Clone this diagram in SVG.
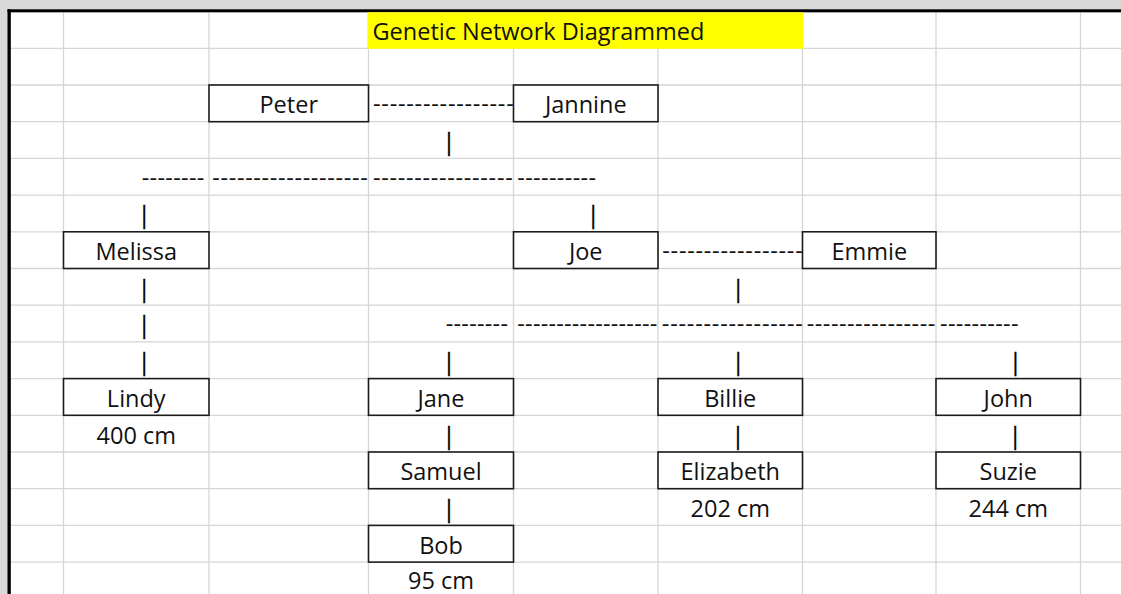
<svg xmlns="http://www.w3.org/2000/svg" width="1121" height="594" viewBox="0 0 1121 594">
<style>
.grid line{stroke:#d6d6d6;stroke-width:1.3}
.box{fill:#fff;stroke:#1c1c1c;stroke-width:1.6}
text{font-family:"Open Sans","Liberation Sans",sans-serif;font-size:23.5px;fill:#111}
.c{text-anchor:middle}
.bar{fill:#000;stroke:#000;stroke-width:0.3}
</style>
<rect x="0" y="0" width="1121" height="594" fill="#d9d9d9"/>
<rect x="10.8" y="12.3" width="1110.2" height="581.7" fill="#fff"/>
<g class="grid" id="grid">
<line x1="63.5" y1="12.3" x2="63.5" y2="594"/>
<line x1="209" y1="12.3" x2="209" y2="594"/>
<line x1="368.5" y1="12.3" x2="368.5" y2="594"/>
<line x1="513.5" y1="12.3" x2="513.5" y2="594"/>
<line x1="658" y1="12.3" x2="658" y2="594"/>
<line x1="802.5" y1="12.3" x2="802.5" y2="594"/>
<line x1="936" y1="12.3" x2="936" y2="594"/>
<line x1="1080.5" y1="12.3" x2="1080.5" y2="594"/>
<line x1="10.8" y1="48.3" x2="1121" y2="48.3"/>
<line x1="10.8" y1="85" x2="1121" y2="85"/>
<line x1="10.8" y1="121.7" x2="1121" y2="121.7"/>
<line x1="10.8" y1="158.4" x2="1121" y2="158.4"/>
<line x1="10.8" y1="195.1" x2="1121" y2="195.1"/>
<line x1="10.8" y1="231.8" x2="1121" y2="231.8"/>
<line x1="10.8" y1="268.5" x2="1121" y2="268.5"/>
<line x1="10.8" y1="305.2" x2="1121" y2="305.2"/>
<line x1="10.8" y1="341.9" x2="1121" y2="341.9"/>
<line x1="10.8" y1="378.6" x2="1121" y2="378.6"/>
<line x1="10.8" y1="415.3" x2="1121" y2="415.3"/>
<line x1="10.8" y1="452" x2="1121" y2="452"/>
<line x1="10.8" y1="488.7" x2="1121" y2="488.7"/>
<line x1="10.8" y1="525.4" x2="1121" y2="525.4"/>
<line x1="10.8" y1="562.1" x2="1121" y2="562.1"/>
</g>
<rect x="7.5" y="9.3" width="1113.5" height="3" fill="#000"/>
<rect x="7.5" y="9.3" width="3.3" height="584.7" fill="#000"/>
<g id="title">
<rect x="367.5" y="12.3" width="435.5" height="36.5" fill="#ffff00"/>
<text x="372.5" y="39.5">Genetic Network Diagrammed</text>
</g>
<g id="connectors">
<text x="373" y="112.2" textLength="140.7" lengthAdjust="spacing">-----------------</text>
<text class="c bar" x="449" y="149.9">|</text>
<text x="141.7" y="185.6" textLength="62.6" lengthAdjust="spacing">--------</text>
<text x="212.3" y="185.6" textLength="155.4" lengthAdjust="spacing">-------------------</text>
<text x="373" y="185.6" textLength="139.7" lengthAdjust="spacing">-----------------</text>
<text x="517.3" y="185.6" textLength="78.7" lengthAdjust="spacing">----------</text>
<text class="c bar" x="144.3" y="223.3">|</text>
<text class="c bar" x="593.3" y="223.3">|</text>
<text x="662.3" y="259" textLength="140.4" lengthAdjust="spacing">-----------------</text>
<text class="c bar" x="144.3" y="296.7">|</text>
<text class="c bar" x="738.3" y="296.7">|</text>
<text class="c bar" x="144.3" y="333.4">|</text>
<text x="445.7" y="332.4" textLength="62.3" lengthAdjust="spacing">--------</text>
<text x="517.3" y="332.4" textLength="140" lengthAdjust="spacing">------------------</text>
<text x="661.8" y="332.4" textLength="141" lengthAdjust="spacing">-----------------</text>
<text x="806.7" y="332.4" textLength="128.6" lengthAdjust="spacing">----------------</text>
<text x="940" y="332.4" textLength="78.5" lengthAdjust="spacing">----------</text>
<text class="c bar" x="144.3" y="370.1">|</text>
<text class="c bar" x="449" y="370.1">|</text>
<text class="c bar" x="738.3" y="370.1">|</text>
<text class="c bar" x="1015.5" y="370.1">|</text>
<text class="c bar" x="449" y="443.5">|</text>
<text class="c bar" x="738" y="443.5">|</text>
<text class="c bar" x="1015.3" y="443.5">|</text>
<text class="c bar" x="449" y="516.9">|</text>
</g>
<g id="peter"><rect class="box" x="209" y="85" width="159.5" height="36.7"/><text class="c" x="288.75" y="113.2">Peter</text></g>
<g id="jannine"><rect class="box" x="513.5" y="85" width="144.5" height="36.7"/><text class="c" x="585.75" y="113.2">Jannine</text></g>
<g id="melissa"><rect class="box" x="63.5" y="231.8" width="145.5" height="36.7"/><text class="c" x="136.25" y="260">Melissa</text></g>
<g id="joe"><rect class="box" x="513.5" y="231.8" width="144.5" height="36.7"/><text class="c" x="585.75" y="260">Joe</text></g>
<g id="emmie"><rect class="box" x="802.5" y="231.8" width="133.5" height="36.7"/><text class="c" x="869.25" y="260">Emmie</text></g>
<g id="lindy"><rect class="box" x="63.5" y="378.6" width="145.5" height="36.7"/><text class="c" x="136.25" y="406.8">Lindy</text><text class="c" x="136.25" y="443.5">400 cm</text></g>
<g id="jane"><rect class="box" x="368.5" y="378.6" width="145" height="36.7"/><text class="c" x="441" y="406.8">Jane</text></g>
<g id="billie"><rect class="box" x="658" y="378.6" width="144.5" height="36.7"/><text class="c" x="730.25" y="406.8">Billie</text></g>
<g id="john"><rect class="box" x="936" y="378.6" width="144.5" height="36.7"/><text class="c" x="1008.25" y="406.8">John</text></g>
<g id="samuel"><rect class="box" x="368.5" y="452" width="145" height="36.7"/><text class="c" x="441" y="480.2">Samuel</text></g>
<g id="elizabeth"><rect class="box" x="658" y="452" width="144.5" height="36.7"/><text class="c" x="730.25" y="480.2">Elizabeth</text><text class="c" x="730.25" y="516.9">202 cm</text></g>
<g id="suzie"><rect class="box" x="936" y="452" width="144.5" height="36.7"/><text class="c" x="1008.25" y="480.2">Suzie</text><text class="c" x="1008.25" y="516.9">244 cm</text></g>
<g id="bob"><rect class="box" x="368.5" y="525.4" width="145" height="36.7"/><text class="c" x="441" y="553.6">Bob</text><text class="c" x="441" y="589.3">95 cm</text></g>
</svg>
